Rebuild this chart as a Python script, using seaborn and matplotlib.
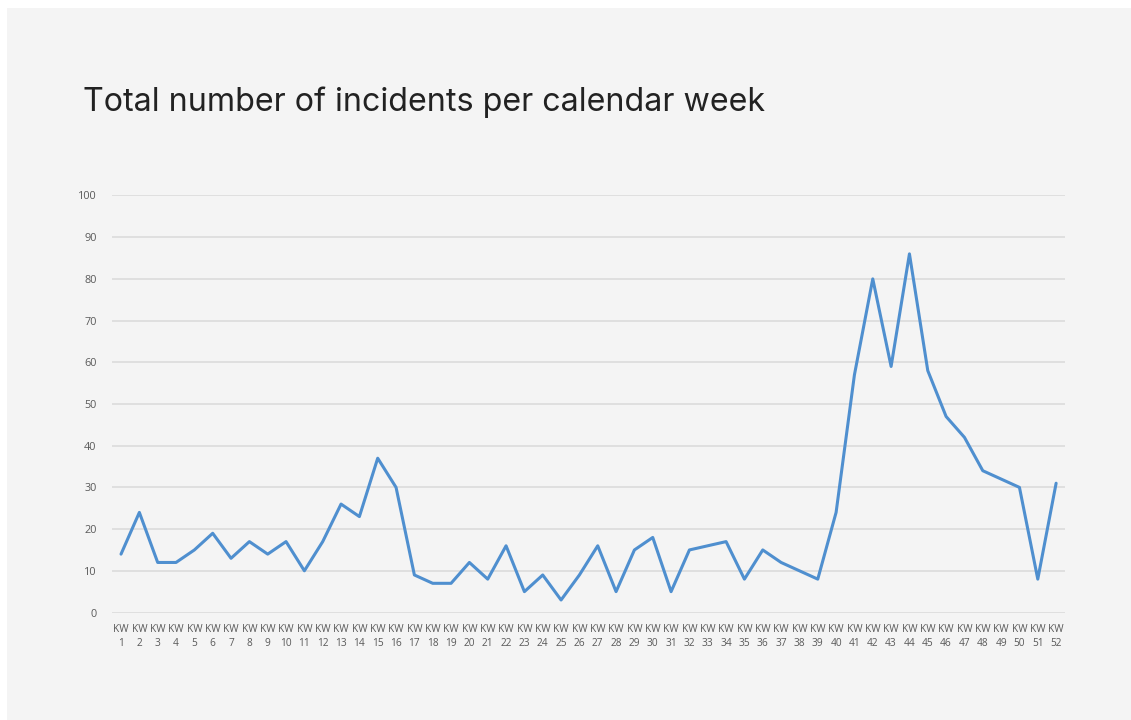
import numpy as np
import pandas as pd
import seaborn as sns
import matplotlib.pyplot as plt
from matplotlib.patches import Rectangle

# Weekly incident counts, KW 1 - KW 52
weeks = list(range(1, 53))
incidents = [14, 24, 12, 12, 15, 19, 13, 17, 14, 17,
             10, 17, 26, 23, 37, 30, 9, 7, 7, 12,
             8, 16, 5, 9, 3, 9, 16, 5, 15, 18,
             5, 15, 16, 17, 8, 15, 12, 10, 8, 24,
             57, 80, 59, 86, 58, 47, 42, 34, 32, 30,
             8, 31]
week_labels = ["KW\n%d" % w for w in weeks]
y_ticks = list(range(0, 101, 10))

df = pd.DataFrame({"week": weeks, "incidents": incidents})

sns.set_style("white")
plt.rcParams['font.family'] = ['Open Sans', 'DejaVu Sans']

fig = plt.figure(figsize=(11.31, 7.2), dpi=100)
fig.patch.set_facecolor("white")
# light gray card behind everything
fig.patches.append(Rectangle((7 / 1131, 0), 1, 1 - 8 / 720, transform=fig.transFigure,
                             facecolor="#f4f4f4", edgecolor="none", zorder=-10))

ax = fig.add_axes([0.0989, 0.1493, 0.843, 0.5792])
ax.patch.set_alpha(0)

sns.lineplot(data=df, x="week", y="incidents", ax=ax, color="#4f8fcf", linewidth=2.2)

ax.set_xlim(0.5, 52.5)
ax.set_ylim(0, 100)
ax.set_yticks(y_ticks)
ax.set_yticklabels([str(v) for v in y_ticks])
ax.set_xticks(weeks)
ax.set_xticklabels(week_labels, linespacing=1.4)
ax.tick_params(axis="both", length=0, labelsize=7.8, labelcolor="#595959")
ax.tick_params(axis="x", labelsize=7.3, pad=8)
ax.tick_params(axis="y", pad=11)
ax.yaxis.grid(True, color="#d9d9d9", linewidth=1.1)
ax.set_axisbelow(True)
for s in ax.spines.values():
    s.set_visible(False)
ax.set_xlabel("")
ax.set_ylabel("")

fig.text(83 / 1131, 1 - 111 / 720, "Total number of incidents per calendar week",
         fontsize=23.2, color="#222222", family=['Inter', 'DejaVu Sans'],
         ha="left", va="baseline")

fig.savefig("out.png", dpi=100, facecolor=fig.get_facecolor())
